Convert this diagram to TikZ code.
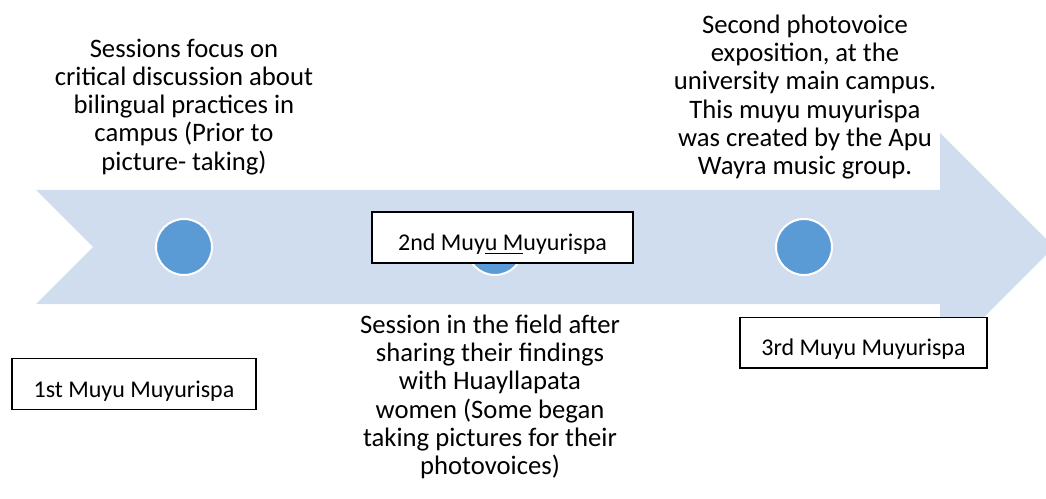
\documentclass[tikz,border=0pt]{standalone}
\usepackage{fontspec}
\setmainfont{Carlito}
\usetikzlibrary{positioning}
\definecolor{bandblue}{RGB}{207,221,238}
\definecolor{dotblue}{RGB}{91,155,213}
\newcommand\ulpart[1]{\setbox0\hbox{#1}\rlap{\rule[-2.6pt]{\wd0}{1.2pt}}\box0}

\begin{document}
\begin{tikzpicture}[
  x=0.75pt, y=-0.75pt,
  font=\fontsize{20}{21.2}\selectfont,
  dot/.style={circle,fill=dotblue,draw=white,line width=1.5pt,minimum size=42pt,inner sep=0pt},
  stage/.style={draw,line width=1pt,fill=white,font=\fontsize{18}{21.2}\selectfont,
    inner xsep=0pt,inner ysep=0pt,text height=29pt,text depth=9pt},
  note/.style={align=center,inner sep=0pt,anchor=north},
]
\clip (0,0) rectangle (1046,499);
% timeline arrow
\fill[bandblue] (36,190) -- (940,190) -- (940,133) -- (1054,247) -- (940,361)
  -- (940,304) -- (36,304) -- (93,247) -- cycle;
% milestones
\node[dot] (m1) at (184,247) {};
\node[dot] (m2) at (495,247) {};
\node[dot] (m3) at (804,247) {};
% descriptions
\node[note] (d1) at (184,38.5) {Sessions focus on\\critical discussion about\\bilingual practices in\\campus (Prior to\\picture- taking)};
\node[note] (d2) at (490,314.5) {Session in the field after\\sharing their findings\\with Huayllapata\\women (Some began\\taking pictures for their\\photovoices)};
\node[note] (d3) at (805,14.5) {Second photovoice\\exposition, at the\\university main campus.\\This muyu muyurispa\\was created by the Apu\\Wayra music group.};
% stage labels
\node[stage,minimum width=183pt] (s1) at (134,384) {1st Muyu Muyurispa};
\node[stage,minimum width=195.75pt] (s2) at (502.5,237.5) {2nd Muy\ulpart{u M}uyurispa};
\node[stage,minimum width=185.25pt] (s3) at (863.5,342.5) {3rd Muyu Muyurispa};
\end{tikzpicture}
\end{document}
